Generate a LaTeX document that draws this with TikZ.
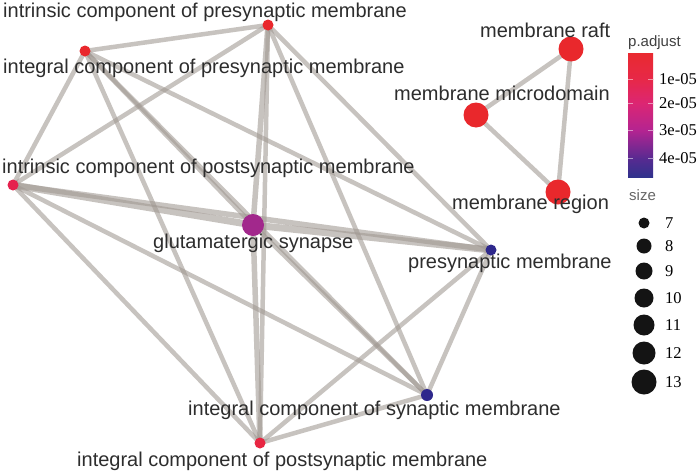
\documentclass[tikz,border=0pt]{standalone}
\usepackage{fontspec}
\setmainfont{Liberation Serif}
\setsansfont{Liberation Sans}
\pgfdeclarelayer{bglayer}
\pgfdeclarelayer{edgelayer}
\pgfsetlayers{bglayer,edgelayer,main}
\definecolor{edgegray}{RGB}{160,152,146}
\definecolor{labelgray}{RGB}{45,45,45}
\definecolor{nred}{RGB}{233,40,44}
\definecolor{npinkA}{RGB}{229,34,78}
\definecolor{npinkB}{RGB}{232,38,66}
\definecolor{npurple}{RGB}{162,40,140}
\definecolor{nblue}{RGB}{46,40,140}
\definecolor{cA}{RGB}{233,42,48}
\definecolor{cB}{RGB}{231,40,72}
\definecolor{cC}{RGB}{220,38,115}
\definecolor{cD}{RGB}{180,36,145}
\definecolor{cE}{RGB}{88,42,145}
\definecolor{cF}{RGB}{48,50,140}
\begin{document}
\begin{tikzpicture}[x=1pt,y=-1pt,
  lbl/.style={anchor=base west, inner sep=0pt, font=\sffamily\fontsize{20}{24}\selectfont, text=labelgray},
  term/.style={circle, inner sep=0pt, draw=none, minimum size=#1},
  edge/.style={draw=edgegray, line width=4.5pt, opacity=0.58},
  thickedge/.style={edge, line width=7pt},
  midedge/.style={edge, line width=5.5pt},
  legtitle/.style={anchor=base west, inner sep=0pt, font=\sffamily\fontsize{15}{18}\selectfont, text=black!75},
  legnum/.style={anchor=west, inner sep=0pt, font=\fontsize{16.5}{19}\selectfont, text=black},
  legdot/.style={circle, inner sep=0pt, fill=black!92, minimum size=#1}
]
\useasboundingbox (0,0) rectangle (700,471);
\begin{pgfonlayer}{bglayer}
\fill[white] (0,0) rectangle (700,471);
\end{pgfonlayer}

% term nodes
\node[term=11pt, fill=nred] (ipre) at (268,25) {};
\node[term=11pt, fill=nred] (gpre) at (85,51) {};
\node[term=11pt, fill=npinkA] (ipost) at (13,185) {};
\node[term=22pt, fill=npurple] (glu) at (253,225) {};
\node[term=11pt, fill=nblue] (pm) at (491,250) {};
\node[term=12pt, fill=nblue] (ism) at (427,395) {};
\node[term=11pt, fill=npinkB] (gpost) at (260,443) {};
\node[term=25pt, fill=nred] (mr) at (571,49) {};
\node[term=25pt, fill=nred] (mm) at (476,115) {};
\node[term=25pt, fill=nred] (mreg) at (558,192) {};

% edges
\begin{pgfonlayer}{edgelayer}
\draw[edge] (ipre.center) -- (gpre.center);
\draw[edge] (ipre.center) -- (ipost.center);
\draw[midedge] (ipre.center) -- (glu.center);
\draw[edge] (ipre.center) -- (pm.center);
\draw[edge] (ipre.center) -- (ism.center);
\draw[edge] (ipre.center) -- (gpost.center);
\draw[edge] (gpre.center) -- (ipost.center);
\draw[edge] (gpre.center) -- (glu.center);
\draw[edge] (gpre.center) -- (pm.center);
\draw[edge] (gpre.center) -- (ism.center);
\draw[edge] (gpre.center) -- (gpost.center);
\draw[thickedge] (ipost.center) -- (glu.center);
\draw[midedge] (ipost.center) -- (pm.center);
\draw[edge] (ipost.center) -- (ism.center);
\draw[edge] (ipost.center) -- (gpost.center);
\draw[thickedge] (glu.center) -- (pm.center);
\draw[edge] (glu.center) -- (ism.center);
\draw[midedge] (glu.center) -- (gpost.center);
\draw[edge] (pm.center) -- (ism.center);
\draw[edge] (pm.center) -- (gpost.center);
\draw[edge] (ism.center) -- (gpost.center);
\draw[edge] (mr.center) -- (mm.center);
\draw[edge] (mr.center) -- (mreg.center);
\draw[edge] (mm.center) -- (mreg.center);
\end{pgfonlayer}

% labels
\node[lbl] (tipre) at (3,17) {intrinsic component of presynaptic membrane};
\node[lbl] (tgpre) at (3,73) {integral component of presynaptic membrane};
\node[lbl] (tipost) at (2,173) {intrinsic component of postsynaptic membrane};
\node[lbl] (tglu) at (153,248) {glutamatergic synapse};
\node[lbl] (tpm) at (408,268) {presynaptic membrane};
\node[lbl] (tism) at (188,415) {integral component of synaptic membrane};
\node[lbl] (tgpost) at (77,466) {integral component of postsynaptic membrane};
\node[lbl] (tmr) at (480,37) {membrane raft};
\node[lbl] (tmm) at (394,100) {membrane microdomain};
\node[lbl] (tmreg) at (452,209) {membrane region};

% legend: p.adjust
\node[legtitle] (ptitle) at (628,46) {p.adjust};
\shade[top color=cA, bottom color=cB] (628,53) rectangle (653,79.5);
\shade[top color=cB, bottom color=cC] (628,79) rectangle (653,103.5);
\shade[top color=cC, bottom color=cD] (628,103) rectangle (653,130.5);
\shade[top color=cD, bottom color=cE] (628,130) rectangle (653,158.5);
\shade[top color=cE, bottom color=cF] (628,158) rectangle (653,177);
\foreach \yy in {79,103,130,158} {
  \draw[white, opacity=0.5, line width=0.6pt] (628,\yy) -- (633,\yy) (648,\yy) -- (653,\yy);
}
\node[legnum] (p1) at (659,79) {1e-05};
\node[legnum] (p2) at (659,103) {2e-05};
\node[legnum] (p3) at (659,130) {3e-05};
\node[legnum] (p4) at (659,158) {4e-05};

% legend: size
\node[legtitle, text=black!60] (stitle) at (629,200) {size};
\node[legdot=11pt] (s7) at (644,223) {};
\node[legdot=15pt] (s8) at (644,246) {};
\node[legdot=17pt] (s9) at (644,271) {};
\node[legdot=19pt] (s10) at (644,298) {};
\node[legdot=21pt] (s11) at (644,325) {};
\node[legdot=23pt] (s12) at (644,353) {};
\node[legdot=25pt] (s13) at (644,382) {};
\node[legnum] (n7) at (665,223) {7};
\node[legnum] (n8) at (665,246) {8};
\node[legnum] (n9) at (665,271) {9};
\node[legnum] (n10) at (665,298) {10};
\node[legnum] (n11) at (665,325) {11};
\node[legnum] (n12) at (665,353) {12};
\node[legnum] (n13) at (665,382) {13};
\end{tikzpicture}
\end{document}
